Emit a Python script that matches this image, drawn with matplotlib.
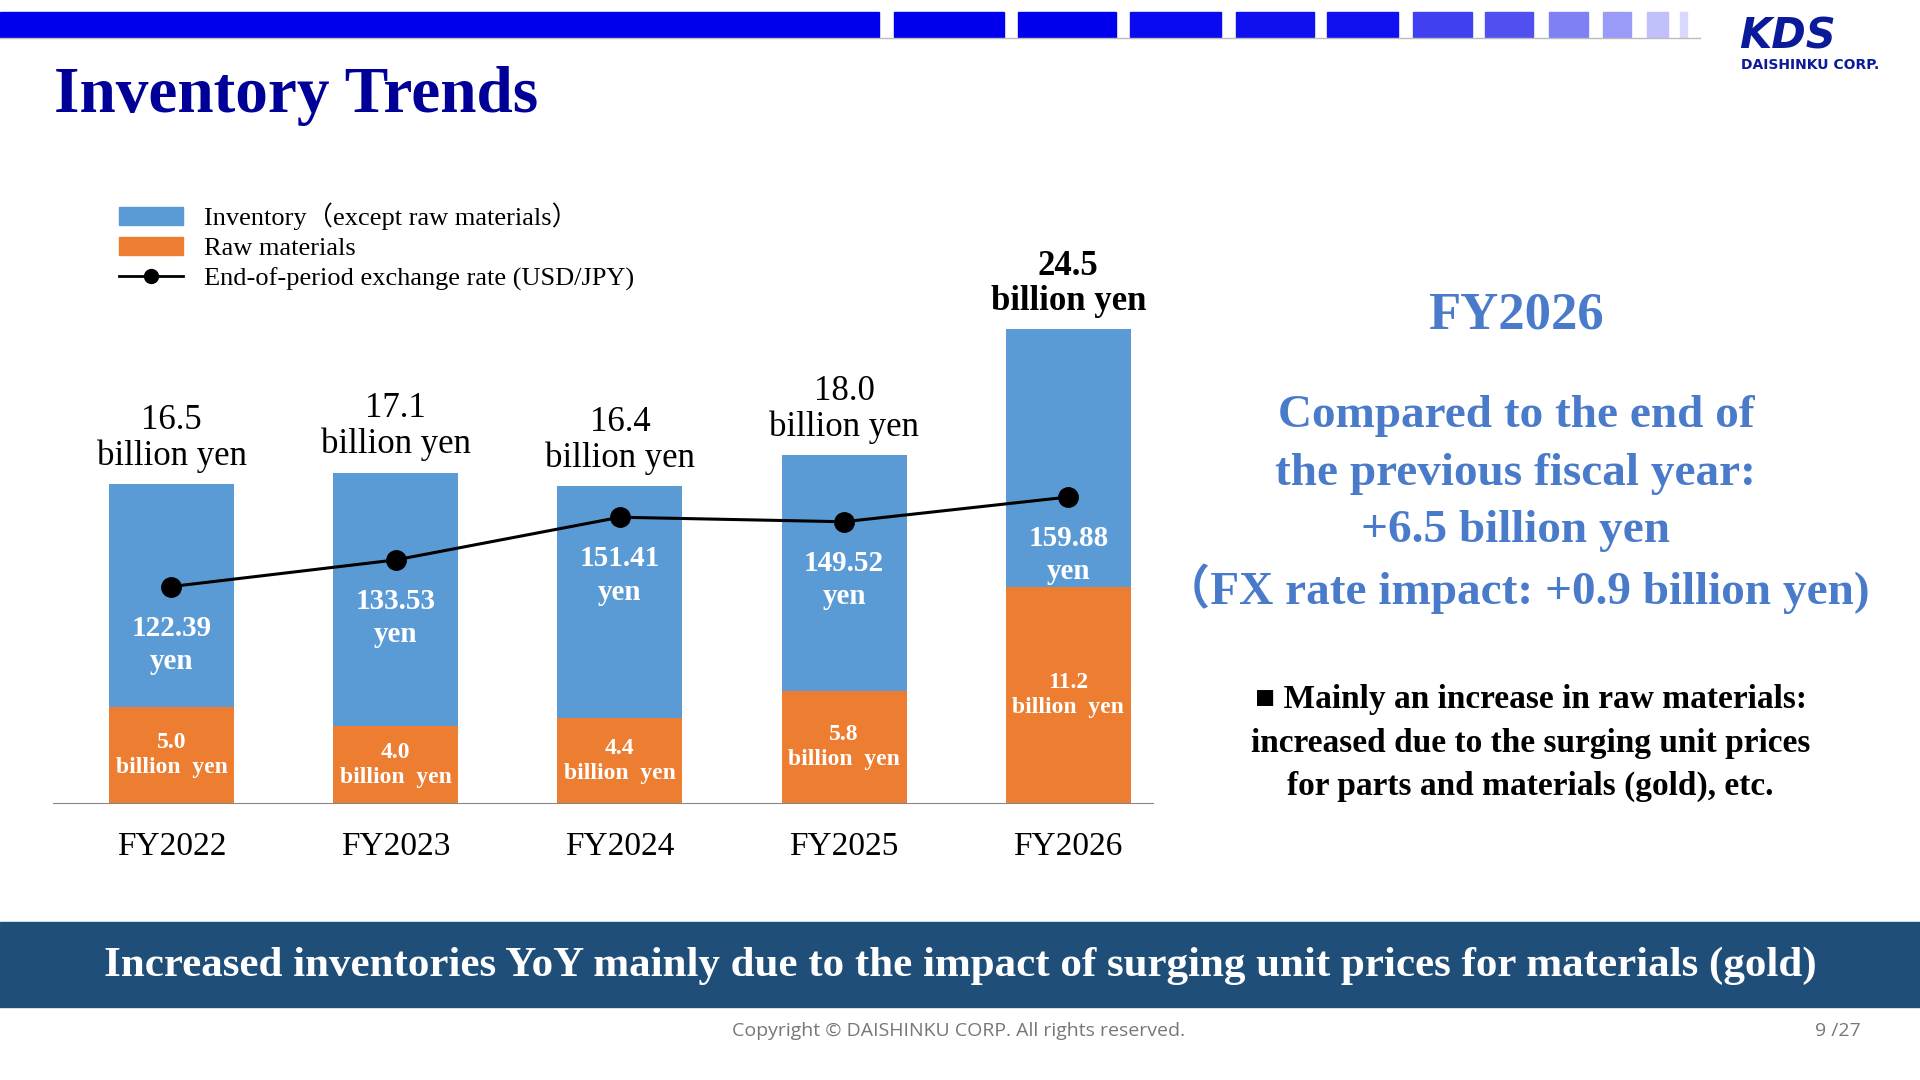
import matplotlib
matplotlib.use("Agg")
import matplotlib.pyplot as plt
from matplotlib.patches import Rectangle, Patch
from matplotlib.lines import Line2D

years = ["FY2022", "FY2023", "FY2024", "FY2025", "FY2026"]
totals = [16.5, 17.1, 16.4, 18.0, 24.5]
raw = [5.0, 4.0, 4.4, 5.8, 11.2]
rates = [122.39, 133.53, 151.41, 149.52, 159.88]
other = [t - r for t, r in zip(totals, raw)]

BLUE = "#5B9BD5"; ORANGE = "#ED7D31"; TXT = "#4A7BCB"
SERIF = ["Liberation Serif", "Noto Sans CJK JP"]
W, H = 1568, 882
fig = plt.figure(figsize=(19.2, 10.8), dpi=100)
def fx(x): return x / W
def fy(y): return 1 - y / H

bg = fig.add_axes([0, 0, 1, 1]); bg.set_xlim(0, W); bg.set_ylim(H, 0); bg.axis("off")
bg.add_patch(Rectangle((0, 10), 718, 20, color="#0000EE"))
segs = [(730, 820), (831, 911), (923, 997), (1009, 1073), (1084, 1142), (1154, 1202),
        (1213, 1252), (1265, 1297), (1309, 1332), (1345, 1362), (1372, 1378)]
cols = ["#0000EE", "#0000EE", "#0A0AF0", "#0F0FF0", "#1010F0", "#4040F0",
        "#5050F0", "#8080F5", "#9A9AF8", "#C0C0FA", "#D8D8FC"]
for (a, b), c in zip(segs, cols):
    bg.add_patch(Rectangle((a, 10), b - a, 20, color=c))
bg.plot([0, 1388], [31, 31], color="#BBBBBB", lw=1)
bg.add_patch(Rectangle((0, 753), W, 69, color="#1F4E79"))

fig.text(fx(44), fy(78), "Inventory Trends", fontsize=47, fontweight="bold",
         color="#000099", family=SERIF, va="center")
fig.text(fx(1460), fy(30), "KDS", fontsize=30, fontweight="bold", style="italic",
         color="#0A1A9A", family="DejaVu Sans", ha="center", va="center")
fig.text(fx(1478), fy(53), "DAISHINKU CORP.", fontsize=10, fontweight="bold",
         color="#0A1A9A", family="DejaVu Sans", ha="center", va="center")

ax = fig.add_axes([fx(43), fy(656), fx(942) - fx(43), fy(160) - fy(656)])
x = list(range(len(years)))
bw = 0.557
ax.bar(x, raw, width=bw, color=ORANGE, zorder=2)
ax.bar(x, other, bottom=raw, width=bw, color=BLUE, zorder=2)
ax.set_xlim(-0.53, 4.38); ax.set_ylim(0, 31.4)
for s in ["top", "right", "left"]:
    ax.spines[s].set_visible(False)
ax.spines["bottom"].set_color("#888888")
ax.set_yticks([])
ax.set_xticks(x); ax.set_xticklabels(years, fontsize=24, family=SERIF)
ax.tick_params(axis="x", length=0, pad=20)
for i, (t, r) in enumerate(zip(totals, raw)):
    bold = i == len(totals) - 1
    ax.annotate(f"{t:.1f}\nbillion yen", (i, t), xytext=(0, 8), textcoords="offset points",
                ha="center", va="bottom", fontsize=25, family=SERIF,
                fontweight="bold" if bold else "normal", linespacing=1.1)
    ax.text(i, max(r / 2, 1.6), f"{r:.1f}\nbillion  yen", ha="center", va="center",
            fontsize=17, family=SERIF, fontweight="bold", color="white", linespacing=1.25)

ax2 = ax.twinx()
ax2.set_ylim(31.6, 286); ax2.axis("off")
ax2.plot(x, rates, color="black", lw=2.2, marker="o", ms=14, zorder=3)
for i, v in enumerate(rates):
    ax2.annotate(f"{v:.2f}\nyen", (i, v), xytext=(0, -42), textcoords="offset points",
                 ha="center", va="center", fontsize=21, family=SERIF, fontweight="bold",
                 color="white", linespacing=1.3)

handles = [Patch(color=BLUE), Patch(color=ORANGE),
           Line2D([], [], color="black", lw=2, marker="o", ms=10)]
labels = ["Inventory（except raw materials）", "Raw materials",
          "End-of-period exchange rate (USD/JPY)"]
fig.legend(handles, labels, loc="upper left", bbox_to_anchor=(fx(78), fy(146)),
           frameon=False, prop={"family": SERIF, "size": 19}, handlelength=2.4,
           labelspacing=0.25, handletextpad=0.8)

fig.text(fx(1238), fy(258), "FY2026", fontsize=38, fontweight="bold", color=TXT,
         family=SERIF, ha="center", va="center")
for y, s in [(340, "Compared to the end of"), (387, "the previous fiscal year:"),
             (434, "+6.5 billion yen"), (481, "（FX rate impact: +0.9 billion yen)")]:
    fig.text(fx(1238), fy(y), s, fontsize=34, fontweight="bold", color=TXT,
             family=SERIF, ha="center", va="center")
for y, s in [(571, "■ Mainly an increase in raw materials:"),
             (607, "increased due to the surging unit prices"),
             (642, "for parts and materials (gold), etc.")]:
    fig.text(fx(1250), fy(y), s, fontsize=24, fontweight="bold", color="black",
             family=SERIF, ha="center", va="center")

fig.text(fx(784), fy(789), "Increased inventories YoY mainly due to the impact of surging unit prices for materials (gold)",
         fontsize=31, fontweight="bold", color="white", family=SERIF, ha="center", va="center")
fig.text(fx(783), fy(842), "Copyright © DAISHINKU CORP. All rights reserved.", fontsize=14,
         color="#777777", family="Open Sans", ha="center", va="center")
fig.text(fx(1520), fy(842), "9 /27", fontsize=14, color="#777777", family="Open Sans",
         ha="right", va="center")

fig.savefig("out.png", dpi=100)
